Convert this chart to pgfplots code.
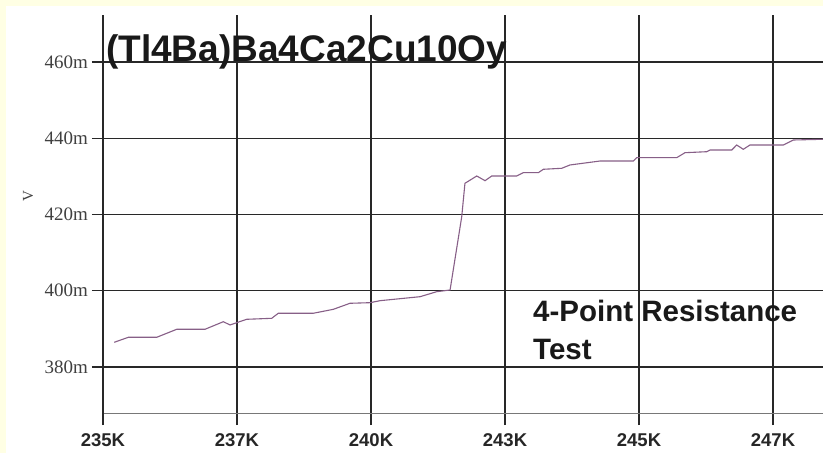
\documentclass[border=0pt]{standalone}
\usepackage{pgfplots}
\pgfplotsset{compat=1.18}
\usepackage{fontspec}
\setmainfont{Liberation Serif}
\newfontfamily\arialfont{Liberation Sans}
\definecolor{bgyellow}{RGB}{255,255,228}
\definecolor{curve}{RGB}{135,95,135}
\definecolor{gridc}{RGB}{40,40,40}
\begin{document}
\begin{tikzpicture}[x=1pt,y=1pt]
\fill[bgyellow] (0,0) rectangle (823,453);
\fill[white] (6,0) rectangle (823,447);
\begin{axis}[
  at={(103pt,39pt)}, anchor=south west,
  scale only axis, width=720pt, height=399pt,
  xmin=0, xmax=5.373, ymin=367.67, ymax=472.33,
  axis x line=bottom, axis y line=left,
  axis line style={-},
  x axis line style={draw={rgb,255:red,120;green,120;blue,120}, line width=1pt},
  y axis line style={draw=gridc, line width=1.5pt},
  xtick={0,1,2,3,4,5},
  xticklabels={235K,237K,240K,243K,245K,247K},
  ytick={380,400,420,440,460},
  yticklabels={380m,400m,420m,440m,460m},
  grid=major,
  major grid style={draw=gridc, line width=1.5pt},
  tick align=outside,
  major tick length=11pt,
  tick style={draw=gridc, line width=1.2pt},
  xticklabel style={font=\arialfont\bfseries\fontsize{18.5}{20}\selectfont, text=black!85, inner sep=0pt, yshift=-8pt},
  yticklabel style={font=\fontsize{19}{20}\selectfont, text=black!75, inner sep=0pt, xshift=-4pt},
  clip=false,
]
\addplot[curve, line width=1.1pt] coordinates {
(0.084,386.48) (0.189,387.79) (0.401,387.79) (0.550,389.89) (0.761,389.89)
(0.898,391.88) (0.948,391.02) (1.072,392.51) (1.259,392.77) (1.308,394.09)
(1.569,394.09) (1.719,395.13) (1.843,396.71) (1.993,396.87) (2.067,397.39)
(2.366,398.44) (2.490,399.75) (2.590,400.20) (2.677,419.42) (2.701,428.18)
(2.789,430.10) (2.851,428.87) (2.901,430.10) (3.087,430.10) (3.137,430.97)
(3.249,430.97) (3.286,431.86) (3.423,432.12) (3.485,432.99) (3.709,434.03)
(3.957,434.03) (3.983,434.90) (4.281,434.90) (4.343,436.21) (4.505,436.47)
(4.530,436.92) (4.692,436.92) (4.729,438.23) (4.778,437.10) (4.828,438.23)
(5.077,438.23) (5.151,439.54) (5.373,439.73)
};
\end{axis}
\node[anchor=base west, inner sep=0pt, font=\arialfont\bfseries\fontsize{37}{40}\selectfont, text=black!90] at (106,391) {(Tl4Ba)Ba4Ca2Cu10Oy};
\node[anchor=base west, inner sep=0pt, font=\arialfont\bfseries\fontsize{29.5}{30}\selectfont, text=black!90] at (533,131) {4-Point Resistance};
\node[anchor=base west, inner sep=0pt, font=\arialfont\bfseries\fontsize{29.5}{30}\selectfont, text=black!90] at (533,93) {Test};
\node[rotate=90, inner sep=0pt, font=\fontsize{15}{16}\selectfont, text=black!75] at (28,257) {V};
\pgfresetboundingbox
\path (0,0) rectangle (823,453);
\end{tikzpicture}
\end{document}
